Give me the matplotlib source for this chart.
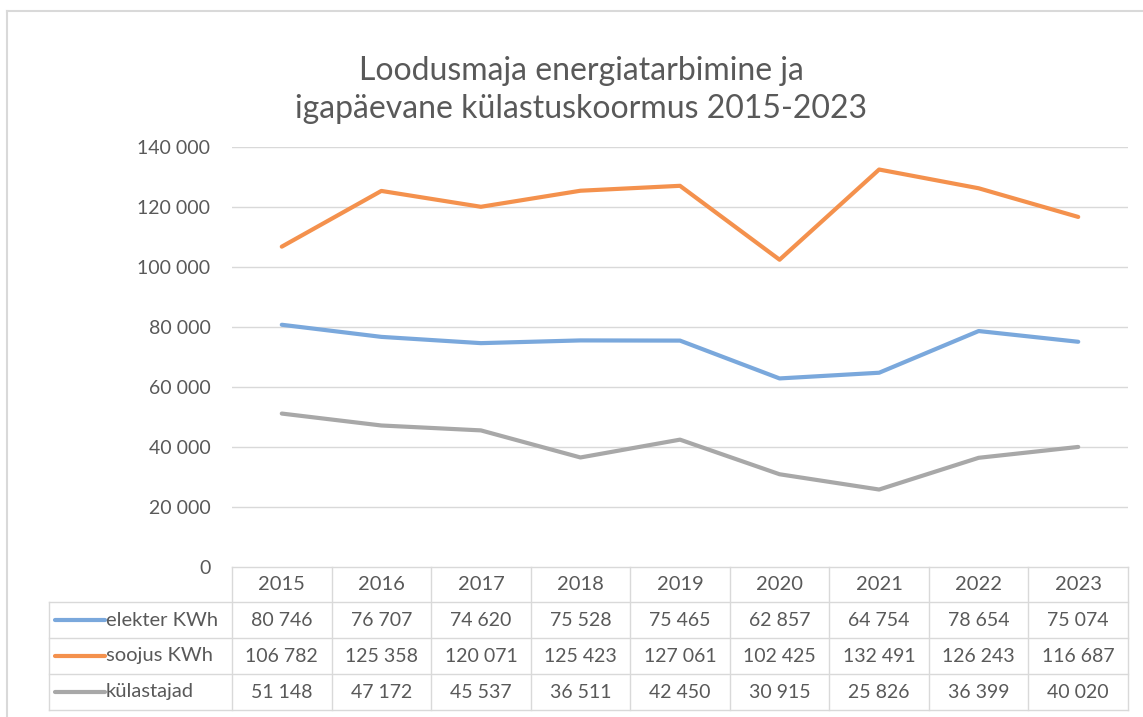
import matplotlib
matplotlib.use('Agg')
import matplotlib.pyplot as plt

# data
years = ['2015', '2016', '2017', '2018', '2019', '2020', '2021', '2022', '2023']
elekter = [80746, 76707, 74620, 75528, 75465, 62857, 64754, 78654, 75074]
soojus = [106782, 125358, 120071, 125423, 127061, 102425, 132491, 126243, 116687]
kulastajad = [51148, 47172, 45537, 36511, 42450, 30915, 25826, 36399, 40020]
series_names = ['elekter KWh', 'soojus KWh', 'külastajad']
series_colors = ['#7AA8DC', '#F4914D', '#A8A8A8']
yticks = [0, 20000, 40000, 60000, 80000, 100000, 120000, 140000]

plt.rcParams['font.family'] = ['Lato', 'DejaVu Sans']
TXT = '#595959'
GRID = '#D9D9D9'

W, H = 1143, 717
fig = plt.figure(figsize=(W / 100, H / 100), dpi=100)
fig.patch.set_facecolor('white')

def fx(px):
    return px / W

def fy(px):
    return 1 - px / H

def fmt(v):
    return f'{v:,}'.replace(',', ' ')

# outer chart frame (only left and top visible in the crop)
fig.add_artist(plt.Line2D([fx(7), fx(7)], [fy(11), fy(717)], color=GRID, lw=1.5, transform=fig.transFigure))
fig.add_artist(plt.Line2D([fx(7), fx(1143)], [fy(11), fy(11)], color=GRID, lw=1.5, transform=fig.transFigure))

fig.text(fx(581), fy(71), 'Loodusmaja energiatarbimine ja', ha='center', va='center', fontsize=23, color=TXT)
fig.text(fx(581), fy(109), 'igapäevane külastuskoormus 2015-2023', ha='center', va='center', fontsize=23, color=TXT)

x_left, x_right = 232, 1128
ax = fig.add_axes([fx(x_left), fy(567), (x_right - x_left) / W, (567 - 147) / H])
xs = list(range(len(years)))
for vals, col in zip([elekter, soojus, kulastajad], series_colors):
    ax.plot(xs, vals, color=col, lw=3, solid_capstyle='round', solid_joinstyle='round', zorder=3)
ax.set_xlim(-0.5, len(years) - 0.5)
ax.set_ylim(0, 140000)
ax.set_yticks(yticks)
ax.set_yticklabels([fmt(v) for v in yticks], color=TXT, fontsize=14)
ax.tick_params(axis='y', length=0, pad=15.5)
ax.set_xticks([])
for v in yticks[1:]:
    ax.axhline(v, color=GRID, lw=1, zorder=1)
for s in ax.spines.values():
    s.set_visible(False)

# data table below the plot, shares the x scale of the plot
tab = fig.add_axes([fx(x_left), fy(710), (x_right - x_left) / W, (710 - 567) / H])
tab.set_xlim(-0.5, len(years) - 0.5)
row_edges = [143, 108, 72, 36, 0]  # px from bottom of table
tab.set_ylim(0, 143)
tab.axis('off')
col_w = (x_right - x_left) / len(years)
left_edge = -0.5 - (x_left - 49) / col_w
kw = dict(color=GRID, lw=1, clip_on=False)
tab.plot([-0.5, len(years) - 0.5], [143, 143], **kw)
for y in row_edges[1:]:
    tab.plot([left_edge, len(years) - 0.5], [y, y], **kw)
for i in range(len(years) + 1):
    tab.plot([i - 0.5, i - 0.5], [0, 143], **kw)
tab.plot([left_edge, left_edge], [0, 108], **kw)

for i, yr in enumerate(years):
    tab.text(i, 125.5, yr, ha='center', va='center', fontsize=14.5, color=TXT)
for r, (name, col, vals) in enumerate(zip(series_names, series_colors,
                                          [elekter, soojus, kulastajad])):
    yc = (row_edges[r + 1] + row_edges[r + 2]) / 2
    for i, v in enumerate(vals):
        tab.text(i, yc, fmt(v), ha='center', va='center', fontsize=14, color=TXT)
    lx0 = -0.5 - (x_left - 55) / col_w
    lx1 = -0.5 - (x_left - 105) / col_w
    tab.plot([lx0, lx1], [yc, yc], color=col, lw=3, solid_capstyle='round', clip_on=False)
    tab.text(-0.5 - (x_left - 106) / col_w, yc, name, ha='left', va='center', fontsize=14.5, color=TXT)

fig.savefig('out.png', dpi=100, facecolor='white')
